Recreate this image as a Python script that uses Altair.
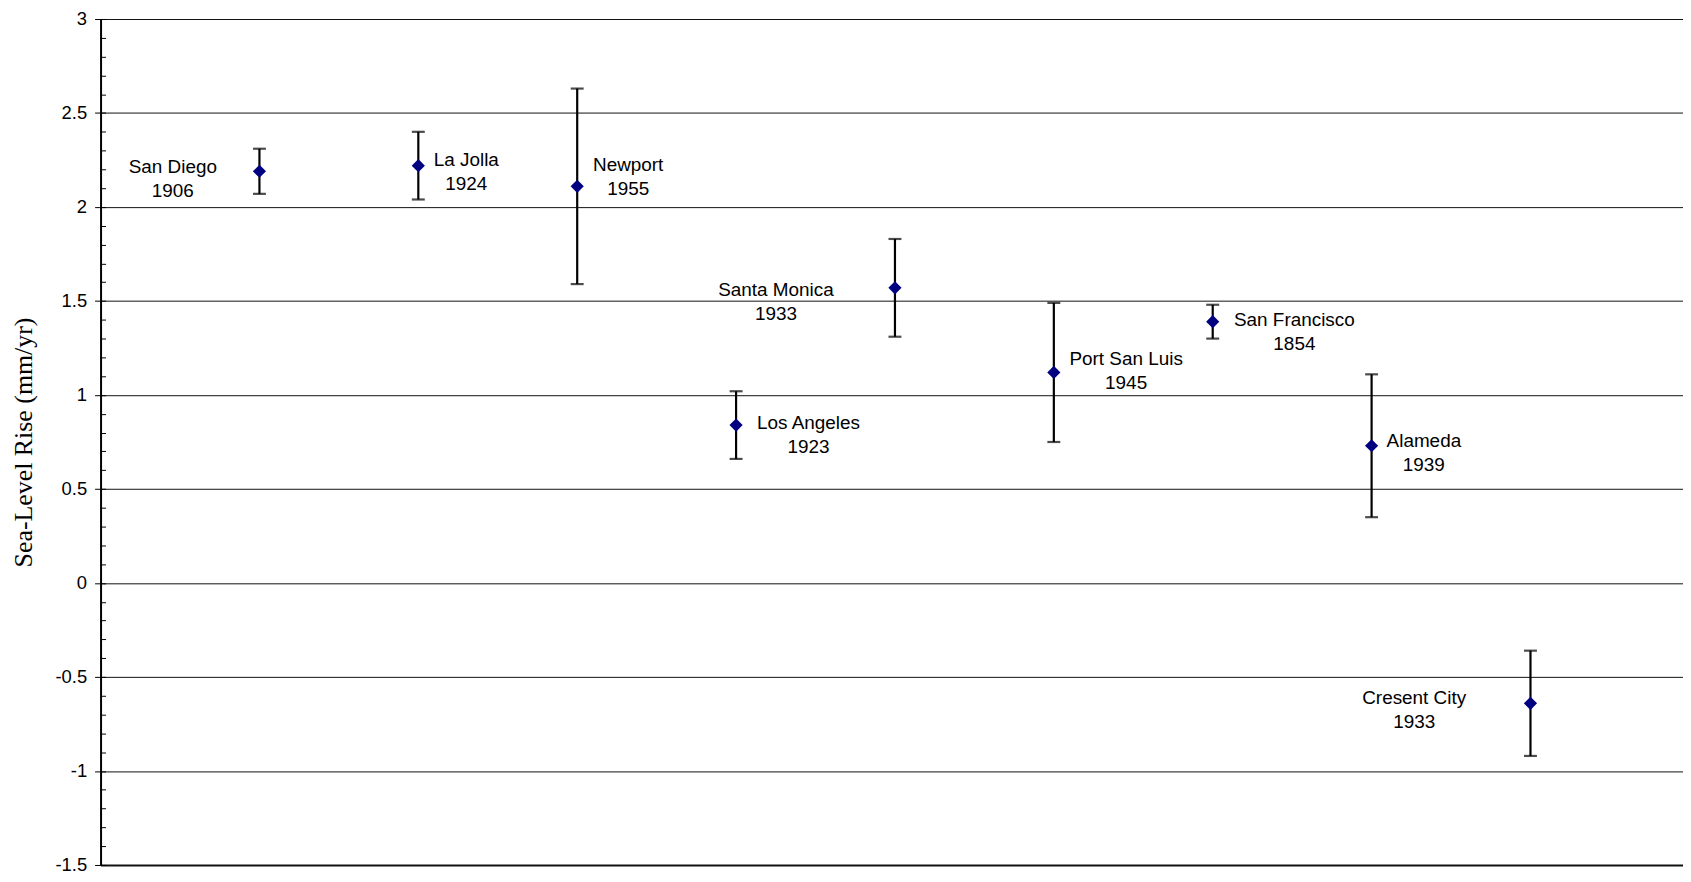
import altair as alt
import pandas as pd

# ---- data ----
stations = ["San Diego", "La Jolla", "Newport", "Los Angeles", "Santa Monica",
            "Port San Luis", "San Francisco", "Alameda", "Cresent City"]
start_years = ["1906", "1924", "1955", "1923", "1933", "1945", "1854", "1939", "1933"]
position = [1, 2, 3, 4, 5, 6, 7, 8, 9]
rate = [2.19, 2.22, 2.11, 0.84, 1.57, 1.12, 1.39, 0.73, -0.64]
error = [0.12, 0.18, 0.52, 0.18, 0.26, 0.37, 0.09, 0.38, 0.28]
# annotation anchors (data units) for the station labels
label_x = [0.455, 2.302, 3.321, 4.456, 4.251, 6.455, 7.514, 8.329, 8.268]
label_y = [2.147, 2.186, 2.159, 0.785, 1.493, 1.126, 1.334, 0.689, -0.676]
y_major = [-1.5, -1, -0.5, 0, 0.5, 1, 1.5, 2, 2.5, 3]
x_ticks = [1, 2, 3, 4, 5, 6, 7, 8, 9]

y_minor = [round(-1.5 + 0.1 * i, 1) for i in range(46)]

df = pd.DataFrame({
    "station": stations,
    "year": start_years,
    "pos": position,
    "rate": rate,
    "err": error,
    "lx": label_x,
    "ly": label_y,
})
df["lo"] = df["rate"] - df["err"]
df["hi"] = df["rate"] + df["err"]

W, H = 1590, 850
FONT = "Liberation Sans"

xscale = alt.Scale(domain=[0, 9.96], nice=False, zero=False)
yscale = alt.Scale(domain=[-1.5, 3], nice=False, zero=False)

base = alt.Chart(df)

main_y_axis = alt.Axis(
    values=y_major,
    labelExpr="datum.value + ''",
    labelFont=FONT, labelFontSize=18.5, labelColor="#000", labelPadding=8,
    tickSize=6, tickColor="#000", tickWidth=1,
    domainColor="#000", domainWidth=2,
    grid=True, gridColor="#111",
    gridWidth={"condition": {"test": "datum.value === -1.5", "value": 2.2}, "value": 1},
    title="Sea-Level Rise (mm/yr)",
    titleFont="Liberation Serif", titleFontSize=26, titleFontWeight="normal",
    titleColor="#000", titleAngle=270, titleAlign="center", titleBaseline="middle",
    titleX=-77, titleY=H / 2,
)

x_axis = alt.Axis(
    orient="bottom", offset=-H / 3, values=x_ticks, labels=False,
    tickSize=7, tickColor="#000", tickWidth=1,
    domainColor="#000", domainWidth=1.2, grid=False, title=None,
)

minor_axis = alt.Axis(
    orient="right", offset=-W, values=y_minor, labels=False,
    tickSize=5, tickColor="#000", tickWidth=1, domain=False, grid=False, title=None,
)

bars = base.mark_rule(color="#000", strokeWidth=2.2).encode(
    x=alt.X("pos:Q", scale=xscale, axis=x_axis),
    y=alt.Y("lo:Q", scale=yscale, axis=main_y_axis),
    y2="hi:Q",
)

cap_lo = base.mark_tick(orient="horizontal", size=13, thickness=2.2, color="#000").encode(
    x=alt.X("pos:Q", scale=xscale, axis=None),
    y=alt.Y("lo:Q", scale=yscale, axis=None),
)
cap_hi = base.mark_tick(orient="horizontal", size=13, thickness=2.2, color="#000").encode(
    x=alt.X("pos:Q", scale=xscale, axis=None),
    y=alt.Y("hi:Q", scale=yscale, axis=None),
)

points = base.mark_point(shape="diamond", filled=True, size=175, color="#000080",
                         opacity=1).encode(
    x=alt.X("pos:Q", scale=xscale, axis=None),
    y=alt.Y("rate:Q", scale=yscale, axis=minor_axis),
)

names = base.mark_text(font=FONT, fontSize=19, color="#000", align="center",
                       baseline="middle", dy=-12).encode(
    x=alt.X("lx:Q", scale=xscale, axis=None),
    y=alt.Y("ly:Q", scale=yscale, axis=None),
    text="station:N",
)
years = base.mark_text(font=FONT, fontSize=19, color="#000", align="center",
                       baseline="middle", dy=12).encode(
    x=alt.X("lx:Q", scale=xscale, axis=None),
    y=alt.Y("ly:Q", scale=yscale, axis=None),
    text="year:N",
)

chart = alt.layer(bars, cap_lo, cap_hi, points, names, years).resolve_scale(
    y="independent"
).resolve_axis(
    y="independent"
).properties(
    width=W, height=H,
    autosize=alt.AutoSizeParams(type="none"),
    padding={"left": 93, "top": 9, "right": 0, "bottom": 7},
    background="white",
).configure_view(stroke=None)

chart.save("out.html", embed_options={"renderer": "svg", "actions": False})
